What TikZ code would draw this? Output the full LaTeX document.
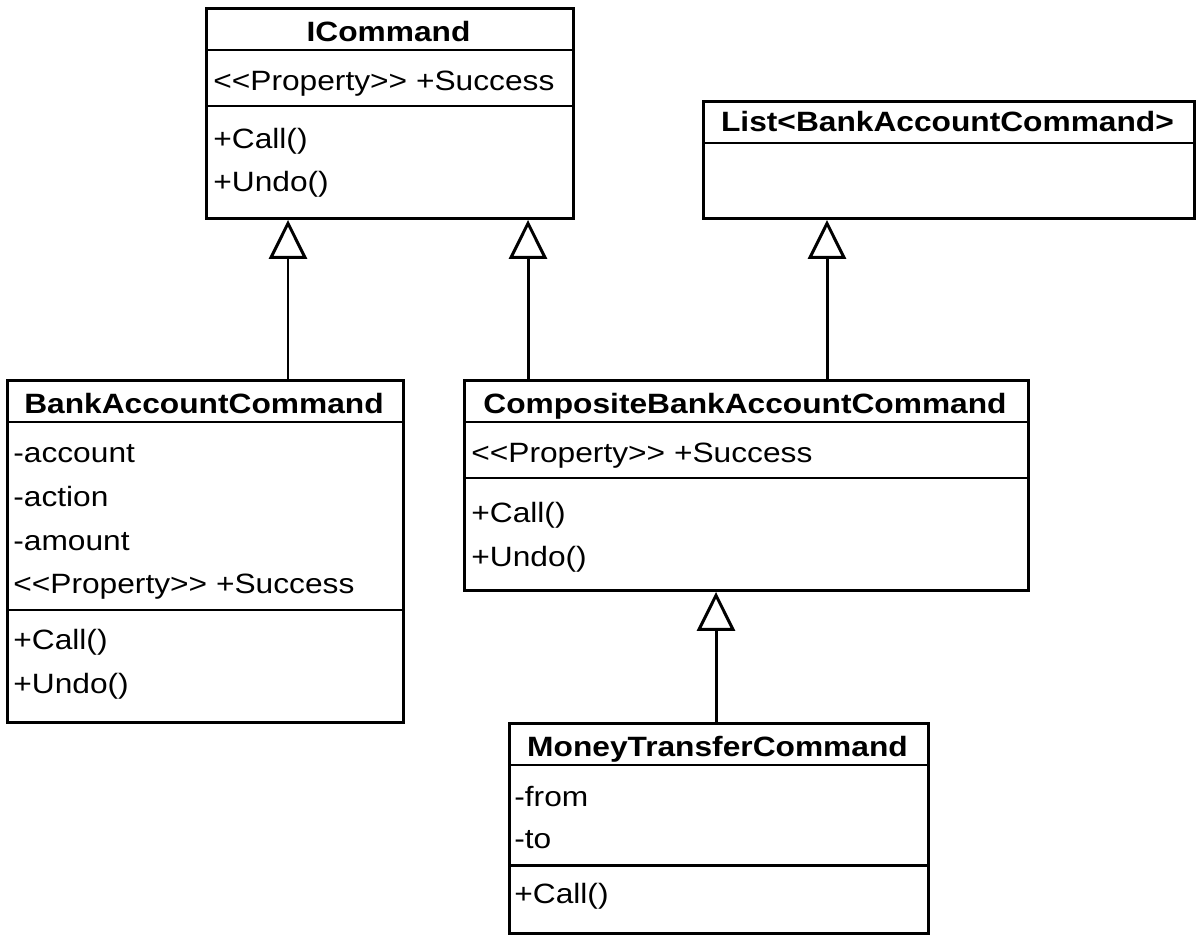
\documentclass[tikz,border=0pt]{standalone}
\usepackage{fontspec}
\setmainfont{Liberation Sans}[FakeStretch=1.135]
\usetikzlibrary{arrows.meta}

\newcommand\stereo[1]{<\kern0pt<#1>\kern0pt>}

\tikzset{
  cls/.style={draw, line width=1.7pt, anchor=north west, inner sep=0pt},
  rule/.style={line width=1.7pt},
  ttl/.style={anchor=base, inner sep=0pt, font=\fontsize{15.9}{25}\selectfont\bfseries},
  mbr/.style={anchor=base west, inner sep=0pt, font=\fontsize{15.9}{25}\selectfont},
  inh/.style={line width=1.7pt, -{Triangle[open, length=0.78cm, width=0.76cm]}}
}

\begin{document}
\begin{tikzpicture}[x=0.02cm, y=-0.02cm]
\useasboundingbox (0,0) rectangle (1200,939);

% ICommand
\node[cls, minimum width=7.34cm, minimum height=4.2cm] (icmd) at (205,7) {};
\draw[rule] (205,50) -- (572,50);
\draw[rule] (205,106) -- (572,106);
\node[ttl] (icmd-t) at (388.5,42) {ICommand};
\node[mbr] (icmd-1) at (213,91) {\stereo{Property} +Success};
\node[mbr] (icmd-2) at (213,149) {+Call()};
\node[mbr] (icmd-3) at (213,192) {+Undo()};

% List
\node[cls, minimum width=9.82cm, minimum height=2.34cm] (lst) at (702,100) {};
\draw[rule] (702,143) -- (1193,143);
\node[ttl] (lst-t) at (947.5,132) {List<BankAccountCommand>};

% BankAccountCommand
\node[cls, minimum width=7.92cm, minimum height=6.84cm] (bac) at (6,379) {};
\draw[rule] (6,422) -- (402,422);
\draw[rule] (6,610) -- (402,610);
\node[ttl] (bac-t) at (204,413) {BankAccountCommand};
\node[mbr] (bac-1) at (13,462) {-account};
\node[mbr] (bac-2) at (13,506) {-action};
\node[mbr] (bac-3) at (13,550) {-amount};
\node[mbr] (bac-4) at (13,593) {\stereo{Property} +Success};
\node[mbr] (bac-5) at (13,649) {+Call()};
\node[mbr] (bac-6) at (13,693) {+Undo()};

% CompositeBankAccountCommand
\node[cls, minimum width=11.28cm, minimum height=4.2cm] (cbac) at (463,379) {};
\draw[rule] (463,422) -- (1027,422);
\draw[rule] (463,478) -- (1027,478);
\node[ttl] (cbac-t) at (745,413) {CompositeBankAccountCommand};
\node[mbr] (cbac-1) at (471,462) {\stereo{Property} +Success};
\node[mbr] (cbac-2) at (471,522) {+Call()};
\node[mbr] (cbac-3) at (471,566) {+Undo()};

% MoneyTransferCommand
\node[cls, minimum width=8.38cm, minimum height=4.2cm] (mtc) at (508,722) {};
\draw[rule] (508,765) -- (927,765);
\draw[rule] (508,865) -- (927,865);
\node[ttl] (mtc-t) at (717.5,756) {MoneyTransferCommand};
\node[mbr] (mtc-1) at (514,806) {-from};
\node[mbr] (mtc-2) at (514,848) {-to};
\node[mbr] (mtc-3) at (514,903) {+Call()};

% inheritance
\coordinate (a1) at (288,0);
\coordinate (a2) at (528,0);
\coordinate (a3) at (827,0);
\coordinate (a4) at (716,0);
\draw[inh] (bac.north -| a1) -- (icmd.south -| a1);
\draw[inh] (cbac.north -| a2) -- (icmd.south -| a2);
\draw[inh] (cbac.north -| a3) -- (lst.south -| a3);
\draw[inh] (mtc.north -| a4) -- (cbac.south -| a4);
\end{tikzpicture}
\end{document}
